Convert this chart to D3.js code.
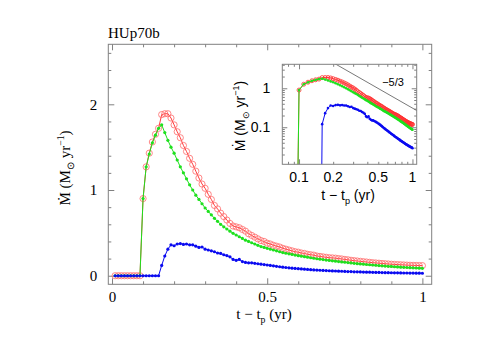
<!DOCTYPE html>
<html>
<head>
<meta charset="utf-8">
<script src="https://cdn.jsdelivr.net/npm/d3@7"></script>
<style>
  body { margin: 0; background: #fff; }
  svg { display: block; }
</style>
</head>
<body>
<div id="chart"></div>
<script>
// time since pericentre (yr), one sample every 0.01 yr
const times = [0.01,0.02,0.03,0.04,0.05,0.06,0.07,0.08,0.09,0.10,
  0.11,0.12,0.13,0.14,0.15,0.16,0.17,0.18,0.19,0.20,
  0.21,0.22,0.23,0.24,0.25,0.26,0.27,0.28,0.29,0.30,
  0.31,0.32,0.33,0.34,0.35,0.36,0.37,0.38,0.39,0.40,
  0.41,0.42,0.43,0.44,0.45,0.46,0.47,0.48,0.49,0.50,
  0.51,0.52,0.53,0.54,0.55,0.56,0.57,0.58,0.59,0.60,
  0.61,0.62,0.63,0.64,0.65,0.66,0.67,0.68,0.69,0.70,
  0.71,0.72,0.73,0.74,0.75,0.76,0.77,0.78,0.79,0.80,
  0.81,0.82,0.83,0.84,0.85,0.86,0.87,0.88,0.89,0.90,
  0.91,0.92,0.93,0.94,0.95,0.96,0.97,0.98,0.99,1.00];

const redRate = [0,0,0,0,0,0,0,0,0,0.90,
  1.27,1.43,1.56,1.65,1.72,1.88,1.89,1.89,1.84,1.76,
  1.68,1.61,1.52,1.45,1.37,1.30,1.22,1.14,1.07,1.02,
  0.95,0.89,0.82,0.78,0.73,0.69,0.65,0.61,0.58,0.57,
  0.56,0.54,0.52,0.49,0.47,0.45,0.43,0.41,0.40,0.38,
  0.37,0.355,0.345,0.335,0.32,0.31,0.30,0.29,0.28,0.275,
  0.265,0.26,0.25,0.245,0.24,0.23,0.225,0.22,0.215,0.21,
  0.208,0.205,0.20,0.196,0.19,0.186,0.18,0.176,0.172,0.168,
  0.164,0.16,0.156,0.152,0.149,0.146,0.143,0.14,0.137,0.134,
  0.132,0.13,0.128,0.126,0.124,0.122,0.121,0.12,0.119,0.118];

const greenRate = [0,0,0,0,0,0,0,0,0,0.90,
  1.27,1.42,1.55,1.64,1.72,1.76,1.67,1.58,1.50,1.43,
  1.35,1.27,1.20,1.13,1.06,1.00,0.94,0.89,0.84,0.79,
  0.75,0.71,0.67,0.635,0.60,0.57,0.545,0.52,0.495,0.475,
  0.455,0.435,0.415,0.40,0.385,0.37,0.355,0.34,0.33,0.32,
  0.31,0.30,0.29,0.28,0.27,0.262,0.255,0.248,0.241,0.234,
  0.228,0.222,0.216,0.21,0.204,0.198,0.193,0.188,0.183,0.178,
  0.174,0.17,0.165,0.161,0.157,0.153,0.149,0.145,0.141,0.138,
  0.135,0.131,0.128,0.125,0.122,0.119,0.116,0.113,0.11,0.108,
  0.105,0.103,0.10,0.098,0.096,0.094,0.092,0.09,0.088,0.086];

const blueRate = [0,0,0,0,0,0,0,0,0,0,
  0,0,0,0,0,0.12,0.23,0.31,0.36,0.35,
  0.37,0.375,0.365,0.37,0.36,0.36,0.345,0.33,0.335,0.31,
  0.30,0.29,0.28,0.265,0.26,0.245,0.235,0.22,0.19,0.18,
  0.19,0.165,0.155,0.15,0.15,0.145,0.14,0.135,0.13,0.125,
  0.12,0.115,0.11,0.105,0.10,0.096,0.092,0.088,0.085,0.082,
  0.079,0.076,0.073,0.071,0.068,0.066,0.064,0.062,0.06,0.058,
  0.056,0.055,0.053,0.052,0.05,0.049,0.048,0.046,0.045,0.044,
  0.043,0.042,0.041,0.04,0.039,0.038,0.037,0.036,0.036,0.035,
  0.034,0.034,0.033,0.032,0.032,0.031,0.031,0.030,0.030,0.029];

const xMajor = [0, 0.5, 1];
const xMinor = [0.1,0.2,0.3,0.4,0.6,0.7,0.8,0.9];
const yMajor = [0, 1, 2];
const yMinor = [0.2,0.4,0.6,0.8,1.2,1.4,1.6,1.8,2.2,2.4,2.6];

const insetXLabels = [0.1, 0.2, 0.5, 1];
const insetYLabels = [0.1, 1];
const slopeRef = { t: 1, v: 0.31, slope: -5 / 3 };

const red = "#ff3b3b", redMark = "#ff6b6b", redMarkInset = "#ff3030";
const green = "#1ee01e", blue = "#0a0af0";
const frame = "#808080";
const serif = "'Liberation Serif', 'Times New Roman', serif";
const sans = "'Liberation Sans', Arial, sans-serif";

const series = [
  { name: "red", values: redRate, line: red, mark: "circle" },
  { name: "green", values: greenRate, line: green, mark: "dot" },
  { name: "blue", values: blueRate, line: blue, mark: "dot" },
].map(s => ({ ...s, points: times.map((t, i) => ({ t, v: s.values[i] })) }));

const svg = d3.select("#chart").append("svg")
  .attr("width", 501).attr("height", 355);

// ---- main panel
const main = { left: 108.3, right: 431.7, top: 44.3, bottom: 284.3 };
const x = d3.scaleLinear().domain([-0.012, 1.03]).range([main.left, main.right]);
const y = d3.scaleLinear().domain([-0.1, 2.7]).range([main.bottom, main.top]);

const drawTicks = (g, axis) => {
  g.call(axis);
  g.select(".domain").remove();
  g.selectAll(".tick line").attr("stroke", frame);
};

drawTicks(svg.append("g").attr("transform", `translate(0,${main.bottom})`),
  d3.axisBottom(x).tickValues(xMajor).tickSize(-6).tickPadding(7).tickFormat(d3.format("")));
drawTicks(svg.append("g").attr("transform", `translate(0,${main.bottom})`),
  d3.axisBottom(x).tickValues(xMinor).tickSize(-3).tickFormat(""));
drawTicks(svg.append("g").attr("transform", `translate(0,${main.top})`),
  d3.axisTop(x).tickValues(xMajor).tickSize(-6).tickFormat(""));
drawTicks(svg.append("g").attr("transform", `translate(0,${main.top})`),
  d3.axisTop(x).tickValues(xMinor).tickSize(-3).tickFormat(""));
drawTicks(svg.append("g").attr("transform", `translate(${main.left},0)`),
  d3.axisLeft(y).tickValues(yMajor).tickSize(-6).tickPadding(11).tickFormat(d3.format("")));
drawTicks(svg.append("g").attr("transform", `translate(${main.left},0)`),
  d3.axisLeft(y).tickValues(yMinor).tickSize(-3).tickFormat(""));
drawTicks(svg.append("g").attr("transform", `translate(${main.right},0)`),
  d3.axisRight(y).tickValues(yMajor).tickSize(-6).tickFormat(""));
drawTicks(svg.append("g").attr("transform", `translate(${main.right},0)`),
  d3.axisRight(y).tickValues(yMinor).tickSize(-3).tickFormat(""));

svg.selectAll(".tick text").attr("font-family", serif).attr("font-size", 15).attr("fill", "#000");

svg.append("rect")
  .attr("x", main.left).attr("y", main.top)
  .attr("width", main.right - main.left).attr("height", main.bottom - main.top)
  .attr("fill", "none").attr("stroke", frame).attr("stroke-width", 1);

const mainLine = d3.line().x(d => x(d.t)).y(d => y(d.v));
series.forEach(s => {
  const g = svg.append("g");
  g.append("path").datum(s.points)
    .attr("fill", "none").attr("stroke", s.line).attr("stroke-width", 1)
    .attr("d", mainLine);
  const m = g.selectAll("circle").data(s.points).join("circle")
    .attr("cx", d => x(d.t)).attr("cy", d => y(d.v));
  if (s.mark === "circle") {
    m.attr("r", 3.1).attr("fill", "none").attr("stroke", redMark).attr("stroke-width", 0.8);
  } else {
    m.attr("r", 1.6).attr("fill", s.line);
  }
});

svg.append("text").attr("x", 108).attr("y", 38)
  .attr("font-family", serif).attr("font-size", 15).text("HUp70b");

const xLabel = (sel, fs) => {
  sel.append("tspan").text("t \u2212 t");
  sel.append("tspan").attr("font-size", fs * 0.65).attr("dy", 4).text("p");
  sel.append("tspan").attr("dy", -4).text(" (yr)");
};
const yLabel = (sel, fs) => {
  sel.append("tspan").text("\u1E40 (M");
  sel.append("tspan").attr("font-size", fs * 0.65).attr("dy", 4).text("\u2299");
  sel.append("tspan").attr("dy", -4).text(" yr");
  sel.append("tspan").attr("font-size", fs * 0.65).attr("dy", -6).text("\u22121");
  sel.append("tspan").attr("dy", 6).text(")");
};

svg.append("text").attr("x", 264).attr("y", 319)
  .attr("text-anchor", "middle").attr("font-family", serif).attr("font-size", 15)
  .call(xLabel, 15);
svg.append("text").attr("transform", "translate(70,168) rotate(-90)")
  .attr("text-anchor", "middle").attr("font-family", serif).attr("font-size", 15)
  .call(yLabel, 15);

// ---- inset (log-log)
const ins = { left: 282.3, right: 416.7, top: 64.3, bottom: 164.3 };
const xi = d3.scaleLog().domain([0.0712, 1.09]).range([ins.left, ins.right]);
const yi = d3.scaleLog().domain([0.0112, 4.12]).range([ins.bottom, ins.top]);

const inset = svg.append("g");
inset.append("rect")
  .attr("x", ins.left).attr("y", ins.top)
  .attr("width", ins.right - ins.left).attr("height", ins.bottom - ins.top)
  .attr("fill", "#fff");
svg.append("clipPath").attr("id", "insetClip").append("rect")
  .attr("x", ins.left).attr("y", ins.top)
  .attr("width", ins.right - ins.left).attr("height", ins.bottom - ins.top);

const xiMajor = [0.1, 1];
const xiMinor = xi.ticks().filter(t => !xiMajor.some(m => Math.abs(m - t) < 1e-9));
const yiMajor = [0.1, 1];
const yiMinor = yi.ticks().filter(t => !yiMajor.some(m => Math.abs(m - t) < 1e-9));

const insTicks = (axisFn, pos, scale, major, minor) => {
  drawTicks(inset.append("g").attr("transform", pos),
    axisFn(scale).tickValues(major).tickSize(-5).tickFormat(""));
  drawTicks(inset.append("g").attr("transform", pos),
    axisFn(scale).tickValues(minor).tickSize(-2.5).tickFormat(""));
};
insTicks(d3.axisBottom, `translate(0,${ins.bottom})`, xi, xiMajor, xiMinor);
insTicks(d3.axisTop, `translate(0,${ins.top})`, xi, xiMajor, xiMinor);
insTicks(d3.axisLeft, `translate(${ins.left},0)`, yi, yiMajor, yiMinor);
insTicks(d3.axisRight, `translate(${ins.right},0)`, yi, yiMajor, yiMinor);

inset.append("g").selectAll("text").data(insetXLabels).join("text")
  .attr("x", d => xi(d)).attr("y", ins.bottom + 17.5)
  .attr("text-anchor", "middle").attr("font-family", sans).attr("font-size", 14)
  .text(d => d3.format("")(d));
inset.append("g").selectAll("text").data(insetYLabels).join("text")
  .attr("x", ins.left - 12).attr("y", d => yi(d) + 5)
  .attr("text-anchor", "end").attr("font-family", sans).attr("font-size", 14)
  .text(d => d3.format("")(d));

const floor = 1e-10;
const insLine = d3.line().x(d => xi(d.t)).y(d => yi(Math.max(d.v, floor)));
const plotArea = inset.append("g").attr("clip-path", "url(#insetClip)");

plotArea.append("path")
  .datum([0.2, 1.1].map(t => ({ t, v: slopeRef.v * Math.pow(t / slopeRef.t, slopeRef.slope) })))
  .attr("fill", "none").attr("stroke", "#555").attr("stroke-width", 0.8)
  .attr("d", insLine);

series.forEach(s => {
  const g = plotArea.append("g");
  g.append("path").datum(s.points)
    .attr("fill", "none").attr("stroke", s.line).attr("stroke-width", 1)
    .attr("d", insLine);
  const m = g.selectAll("circle").data(s.points.filter(d => d.v > 0)).join("circle")
    .attr("cx", d => xi(d.t)).attr("cy", d => yi(d.v));
  if (s.mark === "circle") {
    m.attr("r", 2).attr("fill", "none").attr("stroke", redMarkInset).attr("stroke-width", 0.8);
  } else {
    m.attr("r", 1.3).attr("fill", s.line);
  }
});

inset.append("rect")
  .attr("x", ins.left).attr("y", ins.top)
  .attr("width", ins.right - ins.left).attr("height", ins.bottom - ins.top)
  .attr("fill", "none").attr("stroke", frame).attr("stroke-width", 1);

inset.append("text").attr("x", 393).attr("y", 86)
  .attr("text-anchor", "middle").attr("font-family", sans).attr("font-size", 11)
  .text("\u22125/3");

inset.append("text").attr("x", 348).attr("y", 200)
  .attr("text-anchor", "middle").attr("font-family", sans).attr("font-size", 14)
  .call(xLabel, 14);
inset.append("text").attr("transform", "translate(245,116) rotate(-90)")
  .attr("text-anchor", "middle").attr("font-family", sans).attr("font-size", 14)
  .call(yLabel, 14);
</script>
</body>
</html>
